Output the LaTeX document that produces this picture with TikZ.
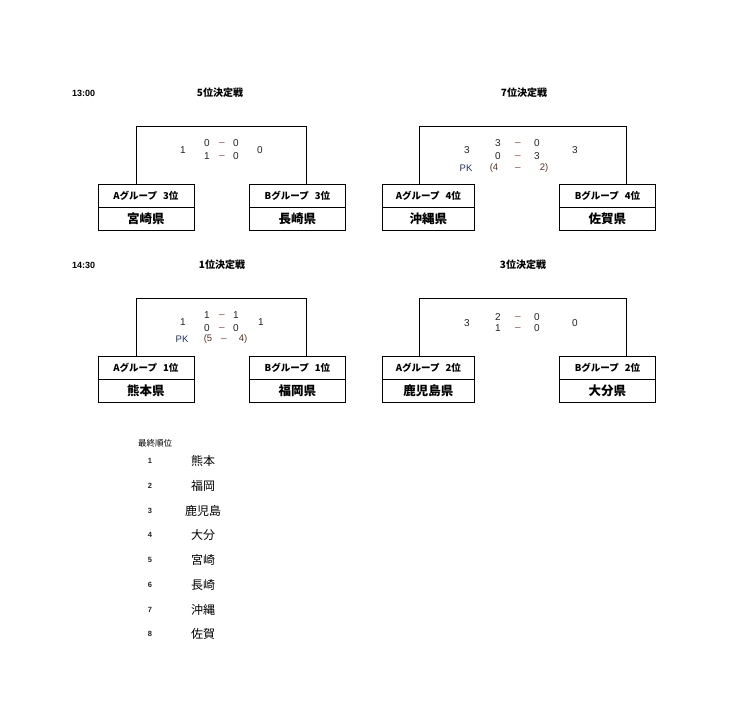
\documentclass[tikz,border=0pt]{standalone}
\usepackage{fontspec}
\setmainfont{Liberation Sans}
\newfontfamily\jp{Noto Sans CJK JP}
\definecolor{dashc}{RGB}{160,70,60}
\definecolor{numc}{RGB}{35,35,35}
\definecolor{pkc}{RGB}{30,50,100}
\definecolor{pkn}{RGB}{90,50,30}
\begin{document}
\begin{tikzpicture}[x=1pt,y=-1pt,
  bline/.style={draw=black,line width=1pt},
  lblcell/.style={draw=black,line width=0.8pt,rectangle,inner sep=0pt,minimum height=22.5pt,anchor=north west,font=\jp\bfseries\fontsize{9.5}{10}\selectfont},
  prefcell/.style={draw=black,line width=0.8pt,rectangle,inner sep=0pt,minimum height=23pt,anchor=north,font=\jp\bfseries\fontsize{12.5}{13}\selectfont},
  ttl/.style={font=\jp\bfseries\fontsize{10}{11}\selectfont,inner sep=0pt},
  tm/.style={font=\bfseries\fontsize{9}{10}\selectfont,inner sep=0pt,anchor=west},
  sc/.style={font=\fontsize{10}{10}\selectfont,text=numc,inner sep=0pt},
  dsh/.style={font=\fontsize{10}{10}\selectfont,text=dashc,inner sep=0pt,yshift=-0.6pt},
  pk/.style={font=\fontsize{9.5}{10}\selectfont,text=pkc,inner sep=0pt},
  pkv/.style={font=\fontsize{9.5}{10}\selectfont,text=pkn,inner sep=0pt},
  rkh/.style={font=\jp\fontsize{8.5}{9}\selectfont,inner sep=0pt},
  rkn/.style={font=\bfseries\fontsize{7.5}{8}\selectfont,text=numc,inner sep=0pt},
  rkp/.style={font=\jp\fontsize{12}{13}\selectfont,inner sep=0pt}]
\useasboundingbox (0,0) rectangle (751,710);
\fill[white] (0,0) rectangle (751,710);

% ---------- headings ----------
\node[tm] (t1) at (72,93) {13:00};
\node[ttl] (h5) at (220,93) {5位決定戦};
\node[ttl] (h7) at (524,93) {7位決定戦};
\node[tm] (t2) at (72,265) {14:30};
\node[ttl] (h1) at (222,265) {1位決定戦};
\node[ttl] (h3) at (523,265) {3位決定戦};

% ---------- 5th place ----------
\node[lblcell,minimum width=96pt] (a5) at (97.5,184) {Aグループ\hspace{6pt}3位};
\node[prefcell,minimum width=96pt] (a5p) at (a5.south) {宮崎県};
\node[lblcell,minimum width=96pt] (b5) at (249,184) {Bグループ\hspace{6pt}3位};
\node[prefcell,minimum width=96pt] (b5p) at (b5.south) {長崎県};
\coordinate (c5a) at (136,126);
\coordinate (c5b) at (306.5,126);
\draw[bline] (a5.north -| c5a) -- (c5a) -- (c5b) -- (b5.north -| c5b);
\node[sc] (s5l) at (183,150) {1};
\node[sc] (s5r) at (260,150) {0};
\node[sc] (s5a1) at (207,143) {0};
\node[dsh] (s5d1) at (222,143) {–};
\node[sc] (s5b1) at (236,143) {0};
\node[sc] (s5a2) at (207,156) {1};
\node[dsh] (s5d2) at (222,156) {–};
\node[sc] (s5b2) at (236,156) {0};

% ---------- 7th place ----------
\node[lblcell,minimum width=92pt] (a7) at (382,184) {Aグループ\hspace{6pt}4位};
\node[prefcell,minimum width=92pt] (a7p) at (a7.south) {沖縄県};
\node[lblcell,minimum width=96pt] (b7) at (559,184) {Bグループ\hspace{6pt}4位};
\node[prefcell,minimum width=96pt] (b7p) at (b7.south) {佐賀県};
\coordinate (c7a) at (419,126);
\coordinate (c7b) at (626,126);
\draw[bline] (a7.north -| c7a) -- (c7a) -- (c7b) -- (b7.north -| c7b);
\node[sc] (s7l) at (467,150) {3};
\node[sc] (s7r) at (575,150) {3};
\node[sc] (s7a1) at (498,143) {3};
\node[dsh] (s7d1) at (518,143) {–};
\node[sc] (s7b1) at (537,143) {0};
\node[sc] (s7a2) at (498,156) {0};
\node[dsh] (s7d2) at (518,156) {–};
\node[sc] (s7b2) at (537,156) {3};
\node[pk] (p7) at (466,168) {PK};
\node[pkv] (p7a) at (494,168) {(4};
\node[dsh] (p7d) at (518,168) {–};
\node[pkv] (p7b) at (544,168) {2)};

% ---------- 1st place ----------
\node[lblcell,minimum width=96pt] (a1) at (97.5,356) {Aグループ\hspace{6pt}1位};
\node[prefcell,minimum width=96pt] (a1p) at (a1.south) {熊本県};
\node[lblcell,minimum width=96pt] (b1) at (249,356) {Bグループ\hspace{6pt}1位};
\node[prefcell,minimum width=96pt] (b1p) at (b1.south) {福岡県};
\coordinate (c1a) at (136,298);
\coordinate (c1b) at (306.5,298);
\draw[bline] (a1.north -| c1a) -- (c1a) -- (c1b) -- (b1.north -| c1b);
\node[sc] (s1l) at (183,322) {1};
\node[sc] (s1r) at (261,322) {1};
\node[sc] (s1a1) at (207,315) {1};
\node[dsh] (s1d1) at (222,315) {–};
\node[sc] (s1b1) at (236,315) {1};
\node[sc] (s1a2) at (207,328) {0};
\node[dsh] (s1d2) at (222,328) {–};
\node[sc] (s1b2) at (236,328) {0};
\node[pk] (p1) at (182,339) {PK};
\node[pkv] (p1a) at (208,339) {(5};
\node[dsh] (p1d) at (224,339) {–};
\node[pkv] (p1b) at (243,339) {4)};

% ---------- 3rd place ----------
\node[lblcell,minimum width=92pt] (a3) at (382,356) {Aグループ\hspace{6pt}2位};
\node[prefcell,minimum width=92pt] (a3p) at (a3.south) {鹿児島県};
\node[lblcell,minimum width=96pt] (b3) at (559,356) {Bグループ\hspace{6pt}2位};
\node[prefcell,minimum width=96pt] (b3p) at (b3.south) {大分県};
\coordinate (c3a) at (419,298);
\coordinate (c3b) at (626,298);
\draw[bline] (a3.north -| c3a) -- (c3a) -- (c3b) -- (b3.north -| c3b);
\node[sc] (s3l) at (467,323) {3};
\node[sc] (s3r) at (575,323) {0};
\node[sc] (s3a1) at (498,317) {2};
\node[dsh] (s3d1) at (518,317) {–};
\node[sc] (s3b1) at (537,317) {0};
\node[sc] (s3a2) at (498,328) {1};
\node[dsh] (s3d2) at (518,328) {–};
\node[sc] (s3b2) at (537,328) {0};

% ---------- final ranking ----------
\node[rkh,anchor=west] (rk) at (138,443) {最終順位};
\node[rkn] (n1) at (150,461) {1};  \node[rkp] (r1) at (203,461) {熊本};
\node[rkn] (n2) at (150,486) {2};  \node[rkp] (r2) at (203,486) {福岡};
\node[rkn] (n3) at (150,511) {3};  \node[rkp] (r3) at (203,511) {鹿児島};
\node[rkn] (n4) at (150,535) {4};  \node[rkp] (r4) at (203,535) {大分};
\node[rkn] (n5) at (150,560) {5};  \node[rkp] (r5) at (203,560) {宮崎};
\node[rkn] (n6) at (150,585) {6};  \node[rkp] (r6) at (203,585) {長崎};
\node[rkn] (n7) at (150,610) {7};  \node[rkp] (r7) at (203,610) {沖縄};
\node[rkn] (n8) at (150,634) {8};  \node[rkp] (r8) at (203,634) {佐賀};
\end{tikzpicture}
\end{document}
